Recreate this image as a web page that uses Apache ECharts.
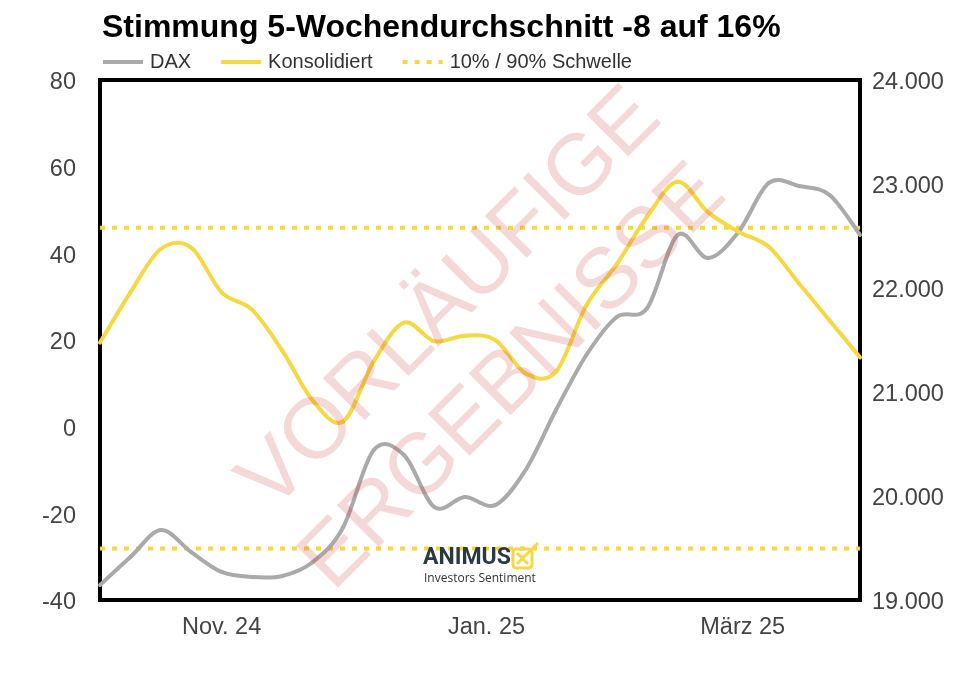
<!DOCTYPE html>
<html><head><meta charset="utf-8">
<script src="https://cdn.jsdelivr.net/npm/echarts@6/dist/echarts.min.js"></script>
<style>html,body{margin:0;padding:0;background:#fff}#c{width:960px;height:680px}</style>
</head><body><div id="c"></div>
<script>
// ---- data ----
const dates = ['2024-10-04','2024-10-11','2024-10-18','2024-10-25','2024-11-01','2024-11-08','2024-11-15','2024-11-22','2024-11-29','2024-12-06','2024-12-13','2024-12-20','2024-12-27','2025-01-03','2025-01-10','2025-01-17','2025-01-24','2025-01-31','2025-02-07','2025-02-14','2025-02-21','2025-02-28','2025-03-07','2025-03-14','2025-03-21','2025-03-28'];
const konsolidiert = [19.4, 31, 41, 41.3, 31, 27, 17.5, 6, 1.2, 15, 24, 19.7, 21, 20, 12.3, 12.7, 28, 37.5, 48.5, 56.5, 49.5, 45, 41.5, 33, 24.5, 16];
const dax = [19144, 19413, 19673, 19460, 19270, 19221, 19231, 19365, 19700, 20440, 20394, 19894, 19990, 19913, 20250, 20827, 21356, 21721, 21808, 22510, 22288, 22538, 23010, 22980, 22894, 22510];
const upperThreshold = 45.9;
const lowerThreshold = -28.1;
const xTickDates = ['2024-11-01','2025-01-01','2025-03-01'];
const xTickLabels = ['Nov. 24','Jan. 25','März 25'];
const titleText = 'Stimmung 5-Wochendurchschnitt -8 auf 16%';
const seriesNames = ['DAX','Konsolidiert','10% / 90% Schwelle'];
const watermarkLines = ['VORLÄUFIGE','ERGEBNISSE'];

// ---- build ----
const day0 = Date.parse(dates[0]);
const toDay = d => Math.round((Date.parse(d) - day0) / 86400000);
const xs = dates.map(toDay);
const xMax = xs[xs.length - 1];
const tickDays = xTickDates.map(toDay);
const FONT = "'Liberation Sans', Arial, sans-serif";
const YELLOW = '#f6d845';
const GREY = '#aaaaaa';

// smooth curve (Catmull-Rom) through points projected by the axes
function splineSeries(name, yIdx, values, color, z) {
  return {
    name, type: 'custom', yAxisIndex: yIdx, z, silent: true,
    data: xs.map((x, i) => [x, values[i]]),
    encode: {x: 0, y: 1},
    itemStyle: {color},
    renderItem: (params, api) => {
      if (params.dataIndex !== 0) return null;
      const p = xs.map((x, i) => api.coord([x, values[i]]));
      const n = p.length;
      const g = i => p[Math.max(0, Math.min(n - 1, i))];
      const children = [];
      for (let i = 0; i < n - 1; i++) {
        const p0 = g(i - 1), p1 = g(i), p2 = g(i + 1), p3 = g(i + 2);
        children.push({
          type: 'bezierCurve',
          shape: {
            x1: p1[0], y1: p1[1], x2: p2[0], y2: p2[1],
            cpx1: p1[0] + (p2[0] - p0[0]) / 6, cpy1: p1[1] + (p2[1] - p0[1]) / 6,
            cpx2: p2[0] - (p3[0] - p1[0]) / 6, cpy2: p2[1] - (p3[1] - p1[1]) / 6
          },
          style: {fill: 'none', stroke: color, lineWidth: 4, lineCap: 'round'}
        });
      }
      return {type: 'group', children};
    }
  };
}

const labelRich = {v: {fontFamily: FONT, fontSize: 23.5, color: '#444', padding: [6, 0, 0, 0]}};

const chart = echarts.init(document.getElementById('c'), null, {renderer: 'canvas'});
chart.setOption({
  animation: false,
  backgroundColor: '#fff',
  title: {
    text: titleText, left: 97, top: 7,
    textStyle: {fontFamily: FONT, fontSize: 32, fontWeight: 'bold', color: '#000'}
  },
  legend: {
    left: 98, top: 47, itemWidth: 40, itemHeight: 4, itemGap: 30,
    data: [
      {name: seriesNames[0], icon: 'rect'},
      {name: seriesNames[1], icon: 'rect'},
      {name: seriesNames[2], icon: 'path://M0,0h5v4h-5z M12,0h5v4h-5z M24,0h5v4h-5z M36,0h4v4h-4z'}
    ],
    textStyle: {fontFamily: FONT, fontSize: 20, color: '#333', padding: [0, 0, 0, 2]}
  },
  grid: {left: 100, right: 100, top: 80, bottom: 80, show: true, borderColor: '#000', borderWidth: 4, backgroundColor: 'transparent'},
  xAxis: {
    type: 'value', min: 0, max: xMax,
    axisLine: {show: false}, axisTick: {show: false}, splitLine: {show: false},
    axisLabel: {
      customValues: tickDays, margin: 16,
      fontFamily: FONT, fontSize: 23.5, color: '#444',
      formatter: v => xTickLabels[tickDays.indexOf(v)] || ''
    }
  },
  yAxis: [
    {type: 'value', min: -40, max: 80, interval: 20, position: 'left',
     axisLine: {show: false}, axisTick: {show: false}, splitLine: {show: false},
     axisLabel: {margin: 24, fontFamily: FONT, fontSize: 23.5, color: '#444', rich: labelRich,
       formatter: v => '{v|' + v + '}'}},
    {type: 'value', min: 19000, max: 24000, interval: 1000, position: 'right',
     axisLine: {show: false}, axisTick: {show: false}, splitLine: {show: false},
     axisLabel: {margin: 12, fontFamily: FONT, fontSize: 23.5, color: '#444', rich: labelRich,
       formatter: v => '{v|' + (v / 1000).toFixed(3) + '}'}}
  ],
  series: [
    {name: seriesNames[2], type: 'line', yAxisIndex: 0, symbol: 'none', silent: true,
     data: [[0, upperThreshold], [xMax, upperThreshold]],
     lineStyle: {color: YELLOW, width: 4, type: [5, 7], cap: 'butt'}, itemStyle: {color: YELLOW}, z: 1},
    {name: seriesNames[2], type: 'line', yAxisIndex: 0, symbol: 'none', silent: true,
     data: [[0, lowerThreshold], [xMax, lowerThreshold]],
     lineStyle: {color: YELLOW, width: 4, type: [5, 7], cap: 'butt'}, itemStyle: {color: YELLOW}, z: 1},
    splineSeries(seriesNames[0], 1, dax, GREY, 2),
    splineSeries(seriesNames[1], 0, konsolidiert, YELLOW, 3)
  ],
  graphic: [
    {type: 'text', x: 451, y: 300, rotation: Math.PI / 4, z: 100, silent: true,
     style: {text: watermarkLines[0], font: "86px 'Liberation Sans', Arial, sans-serif", fill: 'rgba(205,60,60,0.2)', align: 'center', verticalAlign: 'middle'}},
    {type: 'text', x: 514, y: 378, rotation: Math.PI / 4, z: 100, silent: true,
     style: {text: watermarkLines[1], font: "86px 'Liberation Sans', Arial, sans-serif", fill: 'rgba(205,60,60,0.2)', align: 'center', verticalAlign: 'middle'}},
    {type: 'text', x: 423, y: 558, z: 50, silent: true,
     style: {text: 'ANIMUS', font: "bold 23px Roboto, sans-serif", fill: '#2b3a42', align: 'left', verticalAlign: 'middle'}},
    {type: 'text', x: 424, y: 579, z: 50, silent: true,
     style: {text: 'Investors Sentiment', font: "12px 'Open Sans', sans-serif", fill: '#333', align: 'left', verticalAlign: 'middle'}},
    {type: 'rect', z: 50, silent: true, shape: {x: 513, y: 549, width: 19, height: 19, r: 3},
     style: {fill: 'none', stroke: YELLOW, lineWidth: 3}},
    {type: 'polyline', z: 50, silent: true, shape: {points: [[517, 553], [528, 564]]}, style: {stroke: YELLOW, lineWidth: 3, fill: 'none'}},
    {type: 'polyline', z: 50, silent: true, shape: {points: [[517, 564], [538, 543]]}, style: {stroke: YELLOW, lineWidth: 3, fill: 'none'}}
  ]
});
</script></body></html>
